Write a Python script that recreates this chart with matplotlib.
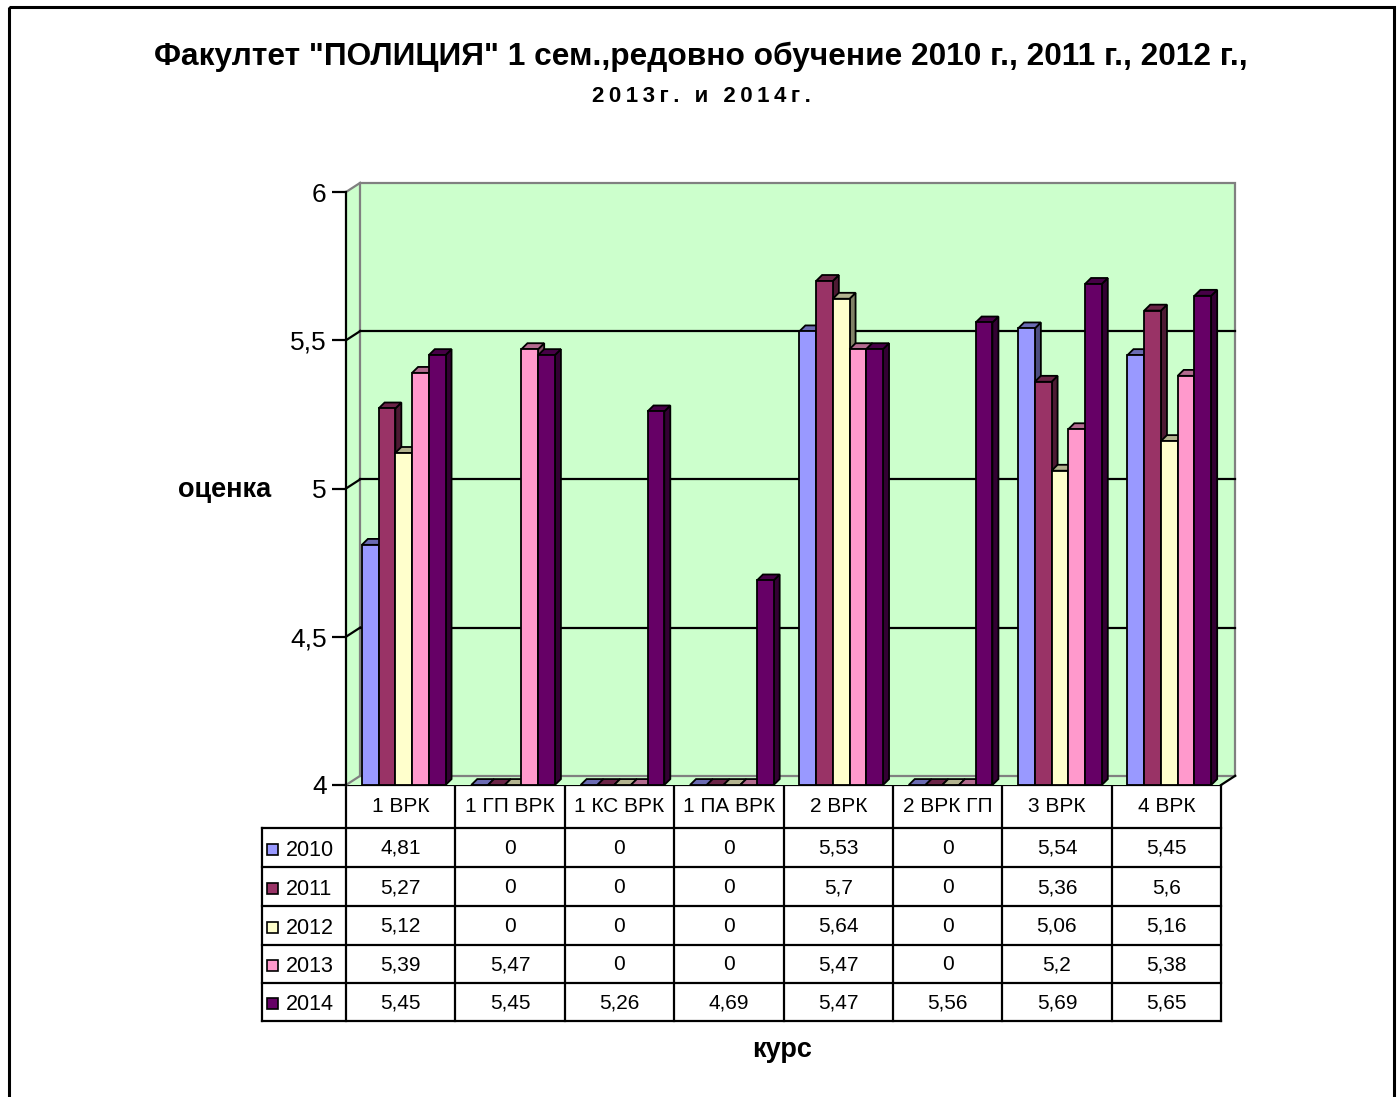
import numpy as np
import matplotlib
matplotlib.use('Agg')
import matplotlib.pyplot as plt
from matplotlib.patches import Polygon, Rectangle

plt.rcParams['font.family'] = ['Liberation Sans', 'DejaVu Sans']

# данни ----
categories = ['1 ВРК', '1 ГП ВРК', '1 КС ВРК', '1 ПА ВРК', '2 ВРК', '2 ВРК ГП', '3 ВРК', '4 ВРК']
years = ['2010', '2011', '2012', '2013', '2014']
v2010 = [4.81, 0, 0, 0, 5.53, 0, 5.54, 5.45]
v2011 = [5.27, 0, 0, 0, 5.7, 0, 5.36, 5.6]
v2012 = [5.12, 0, 0, 0, 5.64, 0, 5.06, 5.16]
v2013 = [5.39, 5.47, 0, 0, 5.47, 0, 5.2, 5.38]
v2014 = [5.45, 5.45, 5.26, 4.69, 5.47, 5.56, 5.69, 5.65]
series = [v2010, v2011, v2012, v2013, v2014]
colors = ['#9999FF', '#993366', '#FFFFCC', '#FF99CC', '#660066']
wall_color = '#CCFFCC'

W, H = 1399, 1097
fig = plt.figure(figsize=(W / 100, H / 100), dpi=100)

# overlay in pixel coords (title, table, border)
ov = fig.add_axes([0, 0, 1, 1], zorder=0)
ov.set_xlim(0, W)
ov.set_ylim(H, 0)
ov.axis('off')

# main plot area: front of the 3D box
X0, X1, Y0, Y1 = 346, 1221, 192, 785
ax = fig.add_axes([X0 / W, 1 - Y1 / H, (X1 - X0) / W, (Y1 - Y0) / H], zorder=1)
ax.patch.set_alpha(0)
n = len(categories)
ymin, ymax = 4, 6
ax.set_xlim(0, n)
ax.set_ylim(ymin, ymax)
for s in ['top', 'right', 'bottom']:
    ax.spines[s].set_visible(False)
ax.spines['left'].set_linewidth(1.6)
ax.set_xticks([])
yt = [4, 4.5, 5, 5.5, 6]
ax.set_yticks(yt)
ax.set_yticklabels([('%g' % v).replace('.', ',') for v in yt], fontsize=19)
ax.tick_params(axis='y', length=10, width=1.6, pad=4)

# walls
dxw, dyw = 0.13, 0.031
ax.add_patch(Polygon([(0, ymin), (dxw, ymin + dyw), (dxw, ymax + dyw), (0, ymax)],
                     facecolor=wall_color, edgecolor='none', clip_on=False, zorder=0))
ax.add_patch(Polygon([(0, ymin), (n, ymin), (n + dxw, ymin + dyw), (dxw, ymin + dyw)],
                     facecolor=wall_color, edgecolor='none', clip_on=False, zorder=0))
ax.add_patch(Rectangle((dxw, ymin + dyw), n, ymax - ymin, facecolor=wall_color,
                       edgecolor='#808080', lw=1.6, clip_on=False, zorder=0.5))
ax.plot([0, dxw], [ymin, ymin + dyw], color='#808080', lw=1.6, clip_on=False, zorder=0.6)
ax.plot([0, dxw], [ymax, ymax + dyw], color='#808080', lw=1.6, clip_on=False, zorder=0.6)
ax.plot([n, n + dxw], [ymin, ymin + dyw], color='black', lw=1.6, clip_on=False, zorder=0.6)
for v in [4.5, 5, 5.5]:
    ax.plot([dxw, n + dxw], [v + dyw, v + dyw], color='black', lw=1.6, clip_on=False, zorder=0.7)
    ax.plot([0, dxw], [v, v + dyw], color='black', lw=1.6, clip_on=False, zorder=0.7)


def shade(c, f):
    rgb = np.array(matplotlib.colors.to_rgb(c))
    return tuple(rgb * f)


# 3D columns
bw = 0.153
gap0 = 0.145
ddx, ddy = 0.055, 0.02
k = 0
for i in range(n):
    for j, vals in enumerate(series):
        v = vals[i]
        x0 = i + gap0 + j * bw
        top = max(v, ymin)
        z = 2 + k * 0.01
        k += 1
        kw = dict(edgecolor='black', lw=1.3, clip_on=False, zorder=z, joinstyle='miter')
        if v > ymin:
            ax.add_patch(Polygon([(x0 + bw, ymin), (x0 + bw + ddx, ymin + ddy),
                                  (x0 + bw + ddx, top + ddy), (x0 + bw, top)],
                                 facecolor=shade(colors[j], 0.5), **kw))
        ax.add_patch(Polygon([(x0, top), (x0 + bw, top), (x0 + bw + ddx, top + ddy),
                              (x0 + ddx, top + ddy)],
                             facecolor=shade(colors[j], 0.7), **kw))
        if v > ymin:
            ax.add_patch(Rectangle((x0, ymin), bw, top - ymin,
                                   facecolor=colors[j], **kw))

# data table
cw = (X1 - X0) / n
rows = [828, 867, 906, 945, 983, 1021]
hx = 262
lw_t = 1.6
ov.plot([X0, X1], [Y1, Y1], color='black', lw=lw_t)
for r in rows:
    ov.plot([hx, X1], [r, r], color='black', lw=lw_t)
ov.plot([hx, hx], [rows[0], rows[-1]], color='black', lw=lw_t)
for i in range(n + 1):
    ov.plot([X0 + i * cw] * 2, [Y1, rows[-1]], color='black', lw=lw_t)
for i, c in enumerate(categories):
    ov.text(X0 + (i + 0.5) * cw, (Y1 + rows[0]) / 2, c, ha='center', va='center', fontsize=15)
for j, vals in enumerate(series):
    yc = (rows[j] + rows[j + 1]) / 2 + 1
    ov.add_patch(Rectangle((267, yc - 5), 11, 11, facecolor=colors[j],
                           edgecolor='black', lw=1.2))
    ov.text(286, yc + 2, years[j], ha='left', va='center', fontsize=15.5)
    for i, v in enumerate(vals):
        ov.text(X0 + (i + 0.5) * cw, yc, ('%g' % v).replace('.', ','),
                ha='center', va='center', fontsize=15)

# titles
ov.text(701, 57, 'Факултет "ПОЛИЦИЯ" 1 сем.,редовно обучение 2010 г., 2011 г., 2012 г.,',
        ha='center', va='center', fontsize=22.8, fontweight='bold')
ov.text(701, 97, '\u2009'.join('2013г. и 2014г.'), ha='center', va='center',
        fontsize=16, fontweight='bold')
ov.text(225, 490, 'оценка', ha='center', va='center', fontsize=19.5, fontweight='bold')
ov.text(782, 1050, 'курс', ha='center', va='center', fontsize=19.5, fontweight='bold')

# chart border
ov.add_patch(Rectangle((9, 7), 1385, 1120, facecolor='none', edgecolor='black', lw=2.2,
                       clip_on=False))

fig.savefig('out.png', dpi=100)
